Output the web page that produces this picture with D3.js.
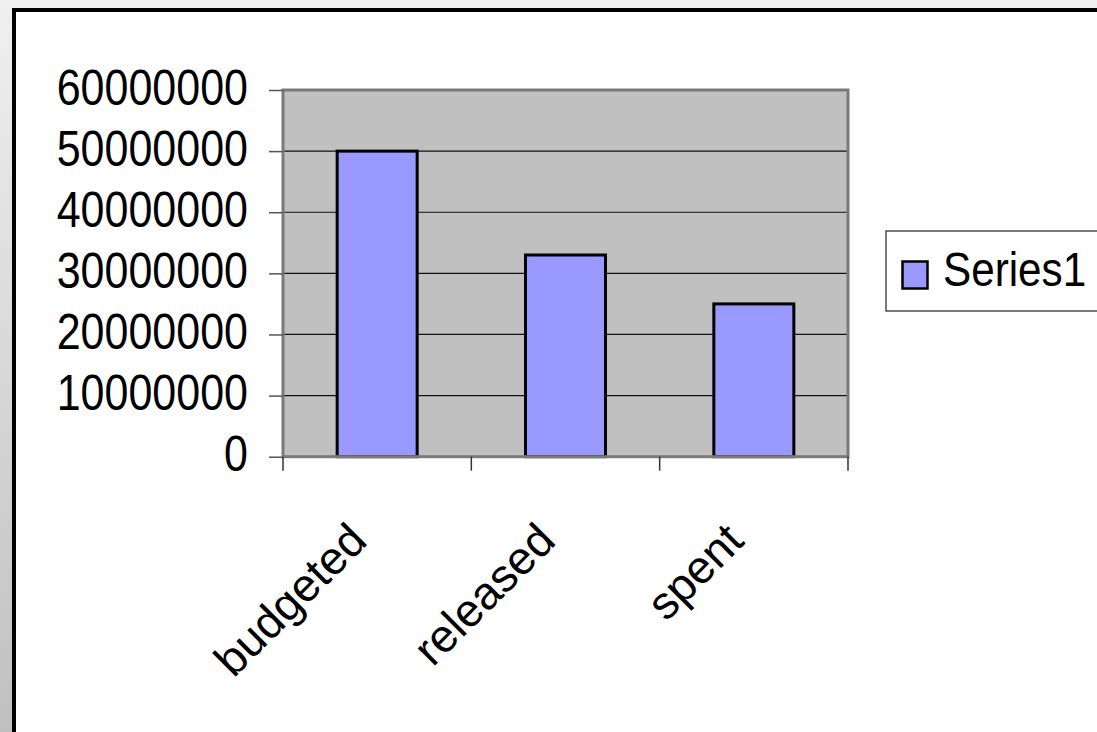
<!DOCTYPE html>
<html>
<head>
<meta charset="utf-8">
<script src="https://cdn.jsdelivr.net/npm/d3@7/dist/d3.min.js"></script>
<style>
  html, body { margin: 0; padding: 0; background: #f0f0f0; overflow: hidden; }
  svg { display: block; }
  text { font-family: "Liberation Sans", Arial, sans-serif; fill: #000; }
</style>
</head>
<body>
<svg id="chart" width="1097" height="732"></svg>
<script>
const categories = ["budgeted", "released", "spent"];
const series1 = [50000000, 33000000, 25000000];
const seriesName = "Series1";
const yTicks = [0, 10000000, 20000000, 30000000, 40000000, 50000000, 60000000];

const W = 1097, H = 732;
const svg = d3.select("#chart");

// outer background
const defs = svg.append("defs");
const lg = defs.append("linearGradient").attr("id", "leftGrad").attr("x1", 0).attr("y1", 0).attr("x2", 0).attr("y2", 1);
lg.append("stop").attr("offset", "0%").attr("stop-color", "#f0f0f0");
lg.append("stop").attr("offset", "100%").attr("stop-color", "#c0c0c0");
svg.append("rect").attr("x", 0).attr("y", 0).attr("width", W).attr("height", H).attr("fill", "#f0f0f0");
svg.append("rect").attr("x", 0).attr("y", 0).attr("width", 14).attr("height", H).attr("fill", "url(#leftGrad)");

// chart area
svg.append("rect").attr("x", 14).attr("y", 10).attr("width", W + 20).attr("height", H + 20)
  .attr("fill", "#ffffff").attr("stroke", "#000").attr("stroke-width", 4);

const plot = { left: 283, top: 90, right: 848, bottom: 456.7 };

const x = d3.scaleBand().domain(categories).range([plot.left, plot.right]).paddingInner(0).paddingOuter(0);
const y = d3.scaleLinear().domain([0, 60000000]).range([plot.bottom, plot.top]);

// plot background
svg.append("rect").attr("x", plot.left).attr("y", plot.top)
  .attr("width", plot.right - plot.left).attr("height", plot.bottom - plot.top)
  .attr("fill", "#c0c0c0");

// gridlines
svg.append("g").selectAll("line").data(yTicks.filter(d => d > 0 && d < 60000000)).join("line")
  .attr("x1", plot.left).attr("x2", plot.right)
  .attr("y1", d => y(d)).attr("y2", d => y(d))
  .attr("stroke", "#111").attr("stroke-width", 1.2);

// bars
const barW = 80;
svg.append("g").selectAll("rect").data(series1).join("rect")
  .attr("x", (d, i) => x(categories[i]) + x.bandwidth() / 2 - barW / 2)
  .attr("y", d => y(d))
  .attr("width", barW)
  .attr("height", d => y(0) - y(d))
  .attr("fill", "#9999ff")
  .attr("stroke", "#000").attr("stroke-width", 3);

// plot border
svg.append("rect").attr("x", plot.left).attr("y", plot.top)
  .attr("width", plot.right - plot.left).attr("height", plot.bottom - plot.top)
  .attr("fill", "none").attr("stroke", "#7a7a7a").attr("stroke-width", 3);

// y axis
const yAxis = d3.axisLeft(y).tickValues(yTicks).tickSize(14).tickFormat(d => String(d));
const yg = svg.append("g").attr("transform", `translate(${plot.left},0)`).call(yAxis);
yg.select(".domain").remove();
yg.selectAll(".tick line").attr("stroke", "#555").attr("stroke-width", 1.5);
yg.selectAll(".tick text").remove();
yg.selectAll(".tick").append("g")
  .attr("transform", "translate(-35,14)")
  .append("text")
  .attr("transform", "scale(0.86,1)")
  .attr("text-anchor", "end")
  .attr("font-size", 50)
  .text(d => String(d));

// x axis ticks at category boundaries
const bounds = categories.map(c => x(c)).concat([plot.right]);
svg.append("g").selectAll("line").data(bounds).join("line")
  .attr("x1", d => d).attr("x2", d => d)
  .attr("y1", plot.bottom).attr("y2", plot.bottom + 14)
  .attr("stroke", "#333").attr("stroke-width", 1.5);

// category labels
svg.append("g").selectAll("text").data(categories).join("text")
  .attr("transform", c => `translate(${x(c) + x.bandwidth() / 2 - 8},543) rotate(-45)`)
  .attr("text-anchor", "end")
  .attr("font-size", 46)
  .text(c => c);

// legend
const leg = svg.append("g");
leg.append("rect").attr("x", 886).attr("y", 231).attr("width", 300).attr("height", 80)
  .attr("fill", "#fff").attr("stroke", "#222").attr("stroke-width", 1.2);
leg.append("rect").attr("x", 902.5).attr("y", 261.5).attr("width", 25).attr("height", 27)
  .attr("fill", "#9999ff").attr("stroke", "#000").attr("stroke-width", 2.5);
leg.append("g").attr("transform", "translate(943,285.5)")
  .append("text").attr("transform", "scale(0.88,1)")
  .attr("font-size", 48).text(seriesName);
</script>
</body>
</html>
